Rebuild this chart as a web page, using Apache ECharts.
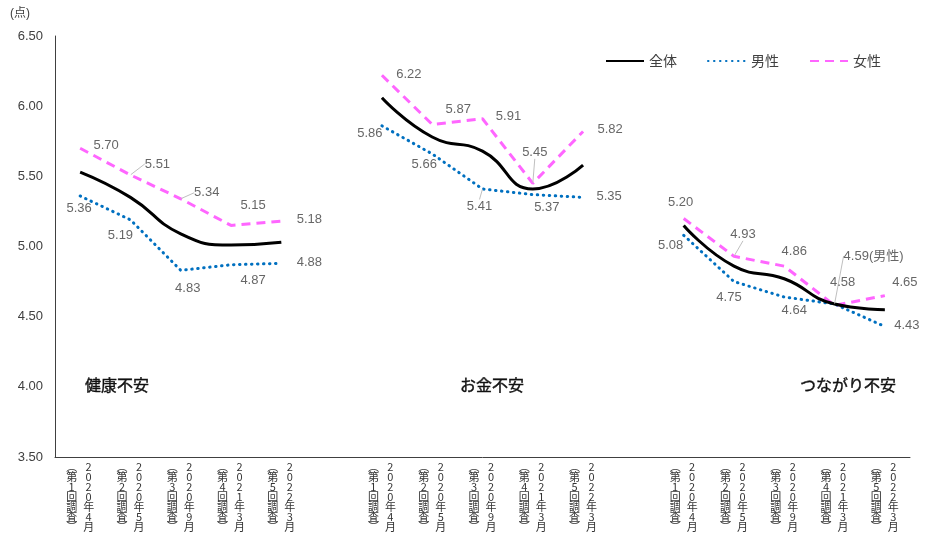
<!DOCTYPE html>
<html>
<head>
<meta charset="utf-8">
<script src="https://cdn.jsdelivr.net/npm/echarts@6/dist/echarts.min.js"></script>
<style>
  html, body { margin: 0; padding: 0; background: #fff; }
  #chart { width: 925px; height: 536px; }
</style>
</head>
<body>
<div id="chart"></div>
<script>
// 調査回と時期（各グループ共通）
var surveyRounds = ['（第1回調査）', '（第2回調査）', '（第3回調査）', '（第4回調査）', '（第5回調査）'];
var surveyDates = ['2020年4月', '2020年5月', '2020年9月', '2021年3月', '2022年3月'];
var groupNames = ['健康不安', 'お金不安', 'つながり不安'];

// 値：健康不安5回, お金不安5回, つながり不安5回
var totalValues = [5.53, 5.35, 5.09, 5.01, 5.03, 6.06, 5.78, 5.68, 5.41, 5.58, 5.15, 4.86, 4.77, 4.59, 4.55];
var maleValues = [5.36, 5.19, 4.83, 4.87, 4.88, 5.86, 5.66, 5.41, 5.37, 5.35, 5.08, 4.75, 4.64, 4.59, 4.43];
var femaleValues = [5.70, 5.51, 5.34, 5.15, 5.18, 6.22, 5.87, 5.91, 5.45, 5.82, 5.20, 4.93, 4.86, 4.58, 4.65];

var yTicks = { min: 3.5, max: 6.5, interval: 0.5 };

// ラベル位置の調整（点からのずれ）
var femaleLabelShift = [[26,-3],[27,-11],[26,-6],[22,-20],[28,-2],[27,-1],[26,-15],[26,-2],[2,-31],[27,-2],[-3,-16],[9,-22],[10,-15],[8,-23],[20,-13]];
var maleLabelShift = [[-1,12],[-10,16],[7,18],[22,16],[28,-1],[-12,8],[-8,11],[-3,17],[14,13],[26,-1],[-13,10],[-5,16],[10,13],[39,-48],[22,-1]];
var femaleGuide = [1, 2, 8, 11];
var maleGuide = [7, 13];

// 5回ごとに空きを1つ挟む
function slotOf(i) { return i + Math.floor(i / 5); }
var slotCount = 17;

var categories = [];
for (var s = 0; s < slotCount; s++) categories.push('');
for (var i = 0; i < 15; i++) categories[slotOf(i)] = surveyRounds[i % 5] + surveyDates[i % 5];

function lineData(vals) {
  var out = [];
  for (var s = 0; s < slotCount; s++) out.push(null);
  for (var i = 0; i < vals.length; i++) out[slotOf(i)] = vals[i];
  return out;
}
function pointData(vals, guide) {
  return vals.map(function (v, i) {
    var d = { value: [slotOf(i), v] };
    if (guide.indexOf(i) >= 0) d.labelLine = { show: true };
    return d;
  });
}

// 縦書き：2列（調査回・時期）を1文字ずつ並べる
function verticalLabel(value, index) {
  if (!value) return '';
  var k = -1;
  for (var i = 0; i < 15; i++) if (slotOf(i) === index) k = i % 5;
  var c1 = Array.from(surveyRounds[k].replace('（', '︵').replace('）', '︶'));
  var c2 = Array.from(surveyDates[k]);
  var rows = [];
  var n = Math.max(c1.length, c2.length);
  for (var r = 0; r < n; r++) {
    rows.push('{a|' + (c1[r] || ' ') + '}{s| }{b|' + (c2[r] || ' ') + '}');
  }
  return rows.join('\n');
}

var labelFont = "'Liberation Sans', 'Noto Sans CJK JP', sans-serif";
var cjkFont = "'Noto Sans CJK JP', sans-serif";
var cell = { width: 12, align: 'center', fontSize: 11, lineHeight: 10, color: '#333', fontFamily: cjkFont };
var groupStyle = { fontSize: 16, fill: '#111', stroke: '#111', lineWidth: 0.4, align: 'center', verticalAlign: 'middle', fontFamily: cjkFont };

function labelSeries(name, vals, shifts, guide) {
  return {
    name: name + 'ラベル',
    type: 'scatter',
    data: pointData(vals, guide),
    symbolSize: 1,
    itemStyle: { color: 'transparent' },
    silent: true,
    z: 5,
    label: {
      show: true,
      position: 'inside',
      fontSize: 13,
      color: '#404040',
      fontFamily: labelFont,
      formatter: function (p) {
        var t = p.value[1].toFixed(2);
        if (name === '男性' && p.dataIndex === 13) t += '(男性)';
        return t;
      }
    },
    labelLine: { show: false, lineStyle: { color: '#bfbfbf', width: 1 } },
    labelLayout: function (p) {
      var sh = shifts[p.dataIndex];
      return { dx: sh[0], dy: sh[1] };
    }
  };
}

var chart = echarts.init(document.getElementById('chart'));
chart.setOption({
  animation: false,
  backgroundColor: '#fff',
  textStyle: { fontFamily: labelFont },
  grid: { left: 55, right: 15, top: 36, bottom: 79, outerBoundsMode: 'none' },
  legend: {
    data: ['全体', '男性', '女性'],
    left: 600,
    top: 49,
    itemWidth: 38,
    itemHeight: 12,
    itemGap: 30,
    itemStyle: { opacity: 0 },
    textStyle: { fontSize: 14, color: '#404040', fontFamily: cjkFont }
  },
  xAxis: {
    type: 'category',
    data: categories,
    boundaryGap: true,
    axisLine: { lineStyle: { color: '#404040', width: 1 } },
    axisTick: { show: false },
    axisLabel: {
      interval: 0,
      margin: 5,
      formatter: verticalLabel,
      rich: { a: cell, b: cell, s: { width: 5, fontSize: 10, lineHeight: 10 } }
    }
  },
  yAxis: {
    type: 'value',
    min: yTicks.min,
    max: yTicks.max,
    interval: yTicks.interval,
    axisLine: { show: true, lineStyle: { color: '#404040', width: 1 } },
    axisTick: { show: false },
    splitLine: { show: false },
    axisLabel: {
      margin: 12,
      fontSize: 13,
      color: '#404040',
      formatter: function (v) { return v.toFixed(2); }
    }
  },
  graphic: [
    { type: 'text', left: 10, top: 8, style: { text: '(点)', fontSize: 12, fill: '#404040', fontFamily: labelFont } },
    { type: 'text', x: 117, y: 385, style: Object.assign({ text: groupNames[0] }, groupStyle) },
    { type: 'text', x: 492, y: 385, style: Object.assign({ text: groupNames[1] }, groupStyle) },
    { type: 'text', x: 848, y: 385, style: Object.assign({ text: groupNames[2] }, groupStyle) }
  ],
  series: [
    {
      name: '全体',
      type: 'line',
      data: lineData(totalValues),
      smooth: 0.5,
      symbol: 'none',
      connectNulls: false,
      lineStyle: { color: '#000', width: 3 },
      itemStyle: { color: '#000' },
      z: 3
    },
    {
      name: '男性',
      type: 'line',
      data: lineData(maleValues),
      symbol: 'none',
      connectNulls: false,
      lineStyle: { color: '#0070C0', width: 3, type: [0.5, 5.5], cap: 'round' },
      itemStyle: { color: '#0070C0' },
      z: 2
    },
    {
      name: '女性',
      type: 'line',
      data: lineData(femaleValues),
      symbol: 'none',
      connectNulls: false,
      lineStyle: { color: '#FF66FF', width: 3, type: [9, 6] },
      itemStyle: { color: '#FF66FF' },
      z: 2
    },
    labelSeries('男性', maleValues, maleLabelShift, maleGuide),
    labelSeries('女性', femaleValues, femaleLabelShift, femaleGuide)
  ]
});
</script>
</body>
</html>
